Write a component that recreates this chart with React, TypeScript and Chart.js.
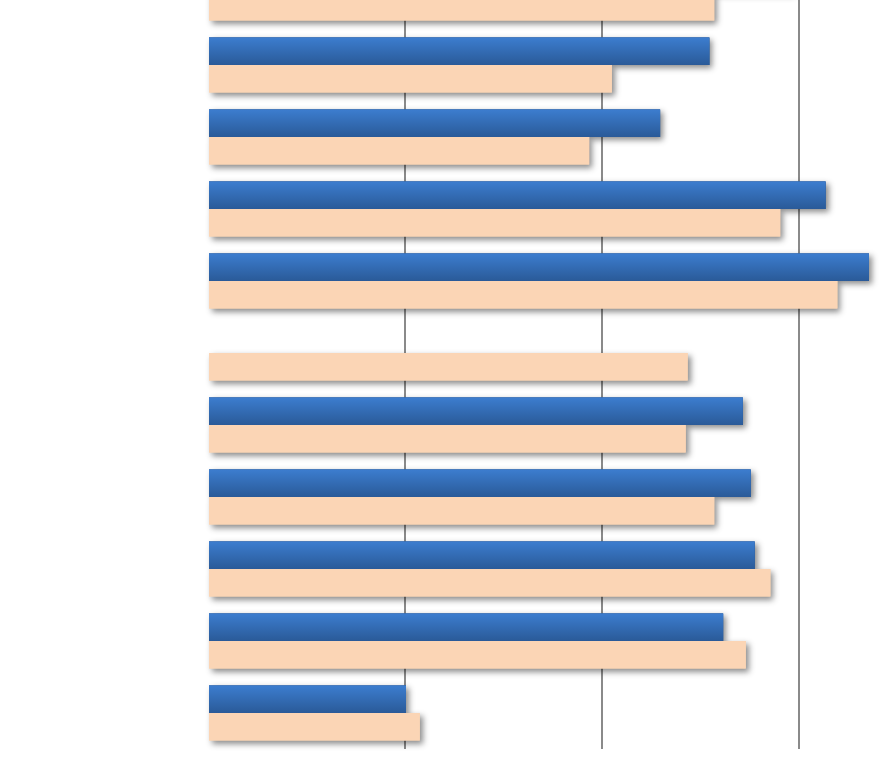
import React, { useEffect, useRef } from "react";
import { Chart, registerables } from "chart.js";

Chart.register(...registerables);

const categories = ["1", "2", "3", "4", "5", "6", "7", "8", "9", "10", "11"];
const seriesBlue = [59.3, 50.9, 45.9, 62.7, 67.1, 0, 54.3, 55.1, 55.5, 52.3, 20.1];
const seriesPeach = [51.4, 41.0, 38.7, 58.1, 63.9, 48.7, 48.5, 51.4, 57.1, 54.6, 21.5];
const xTicks = [0, 20, 40, 60, 80];

const BLUE_TOP = "#3c7dcf";
const BLUE_BOTTOM = "#2a5a98";
const PEACH = "#fbd5b5";

const shadowPlugin = {
  id: "barShadow",
  beforeDatasetsDraw(chart: any) {
    const ctx = chart.ctx;
    ctx.save();
    ctx.shadowColor = "rgba(0,0,0,0.45)";
    ctx.shadowBlur = 6;
    ctx.shadowOffsetX = 3;
    ctx.shadowOffsetY = 3;
    chart.data.datasets.forEach((ds: any, di: number) => {
      const meta = chart.getDatasetMeta(di);
      ctx.fillStyle = di === 0 ? BLUE_BOTTOM : PEACH;
      meta.data.forEach((el: any) => {
        const p = el.getProps(["x", "y", "base", "height"], true);
        const left = Math.min(p.x, p.base);
        const w = Math.abs(p.x - p.base);
        if (w <= 0) return;
        ctx.fillRect(left, p.y - p.height / 2, w, p.height);
      });
    });
    ctx.restore();
  },
  afterDatasetDraw(chart: any, args: any) {
    if (args.index !== 0) return;
    const ctx = chart.ctx;
    const meta = args.meta;
    ctx.save();
    meta.data.forEach((el: any) => {
      const p = el.getProps(["x", "y", "base", "height"], true);
      const left = Math.min(p.x, p.base);
      const w = Math.abs(p.x - p.base);
      if (w <= 0) return;
      const top = p.y - p.height / 2;
      const g = ctx.createLinearGradient(0, top, 0, top + p.height);
      g.addColorStop(0, BLUE_TOP);
      g.addColorStop(1, BLUE_BOTTOM);
      ctx.fillStyle = g;
      ctx.fillRect(left, top, w, p.height);
    });
    ctx.restore();
  },
};

export default function App() {
  const ref = useRef<HTMLCanvasElement | null>(null);
  useEffect(() => {
    if (!ref.current) return;
    const chart = new Chart(ref.current, {
      type: "bar",
      data: {
        labels: categories,
        datasets: [
          { label: "A", data: seriesBlue, backgroundColor: BLUE_BOTTOM, borderWidth: 0 },
          { label: "B", data: seriesPeach, backgroundColor: PEACH, borderWidth: 0 },
        ],
      },
      options: {
        indexAxis: "y",
        responsive: false,
        animation: false,
        devicePixelRatio: 1,
        layout: { padding: { left: 208, right: 4, top: 17, bottom: 10 } },
        datasets: { bar: { categoryPercentage: 0.764, barPercentage: 1 } },
        plugins: { legend: { display: false }, tooltip: { enabled: false } },
        scales: {
          x: {
            min: xTicks[0],
            max: xTicks[xTicks.length - 1],
            afterBuildTicks: (s: any) => {
              s.ticks = xTicks.map((v) => ({ value: v }));
            },
            ticks: { display: false },
            border: { display: false },
            grid: {
              drawTicks: false,
              lineWidth: 2,
              color: (c: any) => (c.tick && c.tick.value === 0 ? "rgba(0,0,0,0)" : "#8a8a8a"),
            },
          },
          y: {
            display: false,
          },
        },
      },
      plugins: [shadowPlugin],
    });
    return () => chart.destroy();
  }, []);
  return (
    <div
      style={{
        position: "fixed",
        left: 0,
        top: 0,
        width: 879,
        height: 757,
        overflow: "hidden",
        background: "#ffffff",
      }}
    >
      <canvas
        ref={ref}
        width={1000}
        height={819}
        style={{ position: "absolute", left: 0, top: -60, width: 1000, height: 819 }}
      />
    </div>
  );
}
